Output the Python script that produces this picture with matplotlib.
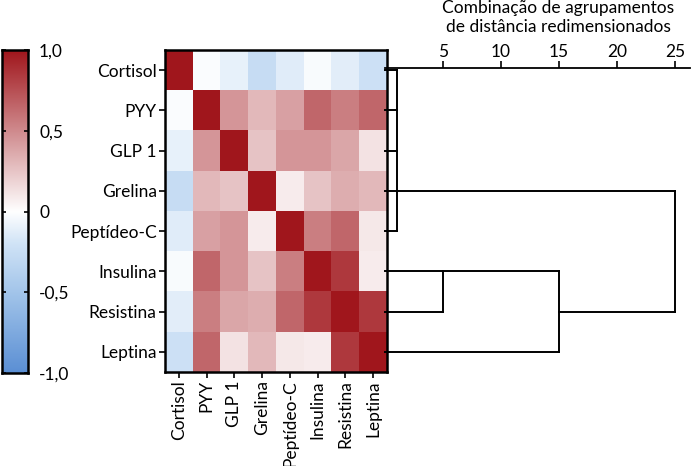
import numpy as np
import matplotlib
matplotlib.use("Agg")
import matplotlib.pyplot as plt
from matplotlib.colors import LinearSegmentedColormap

plt.rcParams['font.family'] = ['Lato', 'DejaVu Sans']

labels = ["Cortisol", "PYY", "GLP 1", "Grelina", "Peptídeo-C", "Insulina", "Resistina", "Leptina"]

corr_cortisol  = [1.00, -0.02, -0.10, -0.26, -0.13, -0.03, -0.12, -0.22]
corr_pyy       = [-0.02, 1.00, 0.45, 0.30, 0.40, 0.65, 0.55, 0.65]
corr_glp1      = [-0.10, 0.45, 1.00, 0.25, 0.45, 0.45, 0.38, 0.12]
corr_grelina   = [-0.26, 0.30, 0.25, 1.00, 0.08, 0.25, 0.35, 0.30]
corr_peptideo  = [-0.13, 0.40, 0.45, 0.08, 1.00, 0.55, 0.65, 0.10]
corr_insulina  = [-0.03, 0.65, 0.45, 0.25, 0.55, 1.00, 0.85, 0.08]
corr_resistina = [-0.12, 0.55, 0.38, 0.35, 0.65, 0.85, 1.00, 0.85]
corr_leptina   = [-0.22, 0.65, 0.12, 0.30, 0.10, 0.08, 0.85, 1.00]

cbar_ticks = [-1.0, -0.5, 0.0, 0.5, 1.0]
cbar_ticklabels = ["-1,0", "-0,5", "0", "0,5", "1,0"]

# dendrogram merges (SPSS style): left row, right row, distance, row carrying the merged cluster
merge_a = ["Cortisol", "PYY", "GLP 1", "Grelina", "Insulina", "Insulina", "Grelina"]
merge_b = ["PYY", "GLP 1", "Grelina", "Peptídeo-C", "Resistina", "Leptina", "Resistina"]
merge_d = [1, 1, 1, 1, 5, 15, 25]
merge_out = ["PYY", "GLP 1", "Grelina", "Grelina", "Insulina", "Resistina", "Resistina"]
dend_ticks = [5, 10, 15, 20, 25]

corr = np.array([corr_cortisol, corr_pyy, corr_glp1, corr_grelina,
                 corr_peptideo, corr_insulina, corr_resistina, corr_leptina])

cmap = LinearSegmentedColormap.from_list(
    "rb", [(0.0, "#5b8fd4"), (0.25, "#a3c5ea"), (0.4, "#d0e3f6"), (0.5, "#ffffff"), (1.0, "#a0161c")])

W, H = 692, 466
fig = plt.figure(figsize=(W / 100, H / 100), dpi=100)
FS = 12.5

def rect(x0, y0, x1, y1):
    return [x0 / W, 1 - y1 / H, (x1 - x0) / W, (y1 - y0) / H]

# heatmap
ax = fig.add_axes(rect(165, 50, 387, 372))
ax.imshow(corr, cmap=cmap, vmin=-1, vmax=1, aspect='auto', interpolation='nearest')
ax.set_xticks(range(len(labels)))
ax.set_yticks(range(len(labels)))
ax.set_xticklabels(labels, rotation=90, fontsize=FS)
ax.set_yticklabels(labels, fontsize=FS)
ax.tick_params(direction='out', length=4, width=1.2, pad=2)
for s in ax.spines.values():
    s.set_linewidth(1.8)

# colorbar
cax = fig.add_axes(rect(2, 50, 28, 373))
grad = np.linspace(-1, 1, 256).reshape(-1, 1)
cax.imshow(grad, origin='lower', extent=[0, 1, -1, 1], aspect='auto', cmap=cmap, vmin=-1, vmax=1)
cax.set_xticks([])
cax.set_yticks(cbar_ticks)
cax.set_yticklabels(cbar_ticklabels, fontsize=FS)
cax.tick_params(axis='y', direction='in', left=True, right=True, labelleft=False,
                labelright=True, length=3, width=1.2, pad=8)
for s in cax.spines.values():
    s.set_linewidth(1.8)

# dendrogram
dax = fig.add_axes(rect(385, 50, 690, 372))
dax.set_xlim(0, 26.3)
dax.set_ylim(len(labels) - 0.5, -0.5)
for k in ['left', 'right', 'bottom']:
    dax.spines[k].set_visible(False)
dax.spines['top'].set_position(('data', -0.05))
dax.spines['top'].set_linewidth(1.3)
dax.patch.set_alpha(0)
dax.set_yticks([])
dax.xaxis.set_ticks_position('top')
dax.set_xticks(dend_ticks)
dax.set_xticklabels([str(t) for t in dend_ticks], fontsize=FS)
dax.tick_params(axis='x', direction='out', length=5, width=1.2, pad=1)

pos_x = {lab: 0.0 for lab in labels}
for a, b, d, o in zip(merge_a, merge_b, merge_d, merge_out):
    ya, yb = labels.index(a), labels.index(b)
    dax.plot([pos_x[a], d], [ya, ya], color='black', lw=1.4, clip_on=False, solid_capstyle='projecting')
    dax.plot([pos_x[b], d], [yb, yb], color='black', lw=1.4, clip_on=False, solid_capstyle='projecting')
    dax.plot([d, d], [ya, yb], color='black', lw=1.4, clip_on=False, solid_capstyle='projecting')
    pos_x[o] = d

fig.text(558 / W, 1 - 0 / H, "Combinação de agrupamentos\nde distância redimensionados",
         ha='center', va='top', fontsize=FS, linespacing=1.2)

fig.savefig("out.png", dpi=100)
